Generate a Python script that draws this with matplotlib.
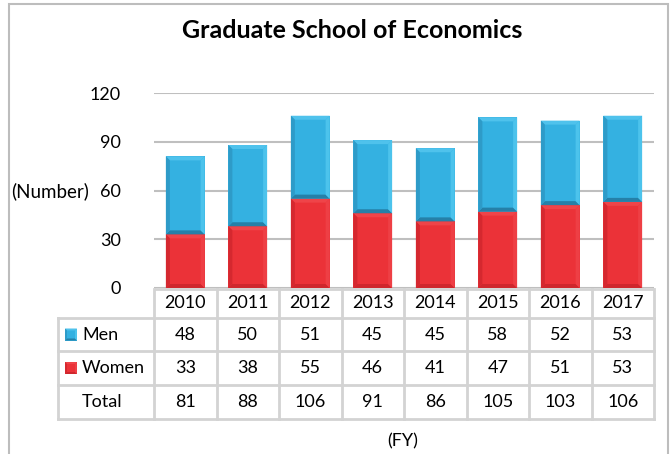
import numpy as np
import matplotlib.pyplot as plt
from matplotlib.patches import Polygon, Rectangle

plt.rcParams['font.family'] = ['Lato', 'DejaVu Sans']

years = ['2010', '2011', '2012', '2013', '2014', '2015', '2016', '2017']
men = [48, 50, 51, 45, 45, 58, 52, 53]
women = [33, 38, 55, 46, 41, 47, 51, 53]
totals = [81, 88, 106, 91, 86, 105, 103, 106]
yticks = [0, 30, 60, 90, 120]

# colours: main, top, bottom, left, right
blue = ['#34B1E1', '#4FC2EC', '#2580A8', '#2E9BC8', '#4CC3EC']
red = ['#EB3238', '#EF4449', '#CF272D', '#D5282F', '#EE3F45']

W, H = 672, 454
fig = plt.figure(figsize=(W / 100, H / 100), dpi=100)

# frame around the whole chart
fig.patches.append(Rectangle((9 / W, -0.05), 659 / W, 1.05 - 4 / H,
                             transform=fig.transFigure, fill=False,
                             edgecolor='#BDBDBD', lw=1.5))

ax_l, ax_r, ax_t, ax_b = 154, 654, 93, 288
ax = fig.add_axes([ax_l / W, 1 - ax_b / H, (ax_r - ax_l) / W, (ax_b - ax_t) / H])
n = len(years)
x = np.arange(n)
ax.set_xlim(-0.5, n - 0.5)
ax.set_ylim(0, 120)
ax.set_yticks(yticks)
ax.set_xticks([])
ax.tick_params(axis='y', length=0, pad=24, labelsize=13)
for s in ax.spines.values():
    s.set_visible(False)
ax.yaxis.grid(True, color='#BFBFBF', lw=1.5)
ax.set_axisbelow(True)

bw = 0.62
px_x = n / (ax_r - ax_l)       # data units per pixel
px_y = 120 / (ax_b - ax_t)


def bevel(axis, x0, y0, w, h, cols, bx, by):
    axis.add_patch(Rectangle((x0, y0), w, h, facecolor=cols[0], edgecolor='none', zorder=3))
    x1, y1 = x0 + w, y0 + h
    ix0, ix1, iy0, iy1 = x0 + bx, x1 - bx, y0 + by, y1 - by
    polys = [
        ([(x0, y1), (x1, y1), (ix1, iy1), (ix0, iy1)], cols[1]),
        ([(x0, y0), (x1, y0), (ix1, iy0), (ix0, iy0)], cols[2]),
        ([(x0, y0), (ix0, iy0), (ix0, iy1), (x0, y1)], cols[3]),
        ([(x1, y0), (ix1, iy0), (ix1, iy1), (x1, y1)], cols[4]),
    ]
    for pts, c in polys:
        axis.add_patch(Polygon(pts, closed=True, facecolor=c, edgecolor='none', zorder=4))


bars_w = ax.bar(x, women, bw, color=red[0], zorder=3)
bars_m = ax.bar(x, men, bw, bottom=women, color=blue[0], zorder=3)
for b in list(bars_w) + list(bars_m):
    cols = red if b in bars_w.patches else blue
    bevel(ax, b.get_x(), b.get_y(), b.get_width(), b.get_height(), cols, 4 * px_x, 4 * px_y)

fig.text(352 / W, 1 - 30 / H, 'Graduate School of Economics', ha='center', va='center',
         fontsize=18, fontweight='bold')
fig.text(11 / W, 1 - 191 / H, '(Number)', ha='left', va='center', fontsize=13.5)
fig.text(403 / W, 1 - 441 / H, '(FY)', ha='center', va='center', fontsize=13)

# data table
tb_l, tb_r, tb_t, tb_b = 58, 654, 289, 419
head_w = (ax_l - tb_l) * px_x
tax = fig.add_axes([tb_l / W, 1 - tb_b / H, (tb_r - tb_l) / W, (tb_b - tb_t) / H])
tax.set_xlim(-0.5 - head_w, n - 0.5)
tax.set_ylim(tb_b - tb_t, 0)
tax.axis('off')
rows = [0, 29, 62, 96, 130]
lc, lw = '#D3D3D3', 2
tax.plot([-0.5, n - 0.5], [rows[0]] * 2, color=lc, lw=lw, solid_capstyle='butt', clip_on=False)
for r in rows[1:]:
    tax.plot([-0.5 - head_w, n - 0.5], [r] * 2, color=lc, lw=lw, clip_on=False)
tax.plot([-0.5 - head_w] * 2, [rows[1], rows[-1]], color=lc, lw=lw, clip_on=False)
for i in range(n + 1):
    tax.plot([i - 0.5] * 2, [rows[0], rows[-1]], color=lc, lw=lw, clip_on=False)

mid = [(rows[k] + rows[k + 1]) / 2 for k in range(4)]
for i in range(n):
    tax.text(i, mid[0], years[i], ha='center', va='center', fontsize=13)
    tax.text(i, mid[1], str(men[i]), ha='center', va='center', fontsize=13)
    tax.text(i, mid[2], str(women[i]), ha='center', va='center', fontsize=13)
    tax.text(i, mid[3], str(totals[i]), ha='center', va='center', fontsize=13)

lab_x = -0.5 - head_w + 24 * px_x
for k, (name, cols) in enumerate([('Men', blue), ('Women', red)]):
    sq = 12 * px_x
    bevel(tax, -0.5 - head_w + 7 * px_x, mid[k + 1] + 6, sq, -12, cols, 2 * px_x, -2)
    tax.text(lab_x, mid[k + 1], name, ha='left', va='center', fontsize=13)
tax.text(lab_x, mid[3], 'Total', ha='left', va='center', fontsize=13)

fig.savefig('out.png', dpi=100)
